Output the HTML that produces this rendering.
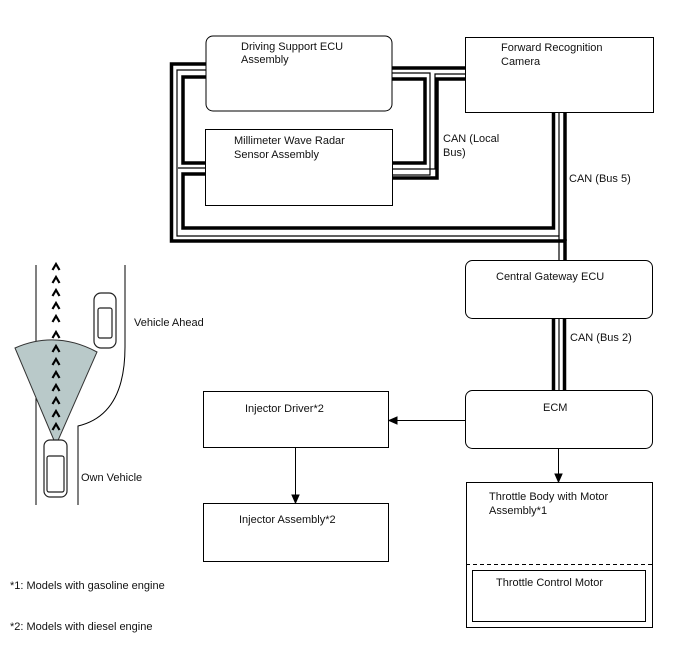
<!DOCTYPE html>
<html><head><style>
body{margin:0;background:#fff}
svg text{font-family:"Liberation Sans",sans-serif;font-size:11px;fill:#111}
</style></head><body>
<svg width="688" height="658" viewBox="0 0 688 658" xmlns="http://www.w3.org/2000/svg">
<g fill="none" stroke="#000">
<path d="M206 64 H171.5 V241 H565 V260" stroke-width="3.5"/>
<path d="M206 70 H177 V236 H559 V260" stroke-width="1.2"/>
<path d="M206 77 H183 V163 H206" stroke-width="3.5"/>
<path d="M206 168 H178" stroke-width="1.2"/>
<path d="M206 174 H183 V228 H553.5 V112" stroke-width="3.5"/>
<path d="M559 112 V236" stroke-width="1.2"/>
<path d="M565 112 V241" stroke-width="3.5"/>
<path d="M392 68 H465" stroke-width="3.5"/>
<path d="M392 73 H430 V175 H392" stroke-width="1.2"/>
<path d="M392 79 H425 V163 H392" stroke-width="3.5"/>
<path d="M465 74 H435 V169 H392" stroke-width="1.2"/>
<path d="M465 79 H437 V178 H392" stroke-width="3.5"/>
<path d="M553.5 318 V390 M564.5 318 V390" stroke-width="3.5"/>
<path d="M559 318 V390" stroke-width="1.2"/>
</g>
<g fill="#fff" stroke="#000" stroke-width="1">
<rect x="206" y="36" width="186" height="75" rx="7"/>
<rect x="465.5" y="37.5" width="188" height="75"/>
<rect x="205.5" y="129.5" width="187" height="76"/>
<rect x="465.5" y="260.5" width="187" height="58" rx="7"/>
<rect x="465.5" y="390.5" width="187" height="58" rx="7"/>
<rect x="203.5" y="391.5" width="185" height="56"/>
<rect x="203.5" y="503.5" width="185" height="58"/>
<rect x="466.5" y="482.5" width="186" height="145"/>
<rect x="472.5" y="570.5" width="173" height="51"/>
</g>
<line x1="466" y1="564.5" x2="652" y2="564.5" stroke="#000" stroke-dasharray="4,3"/>
<g stroke="#000" fill="#000">
<line x1="465" y1="420.5" x2="396" y2="420.5"/><path d="M389 420.5 L397 417 L397 424 Z"/>
<line x1="558.5" y1="448" x2="558.5" y2="475"/><path d="M558.5 482 L555 474 L562 474 Z"/>
<line x1="295.5" y1="447" x2="295.5" y2="496"/><path d="M295.5 503 L292 495 L299 495 Z"/>
</g>
<text x="241" y="50">Driving Support ECU</text><text x="241" y="63">Assembly</text>
<text x="501" y="51">Forward Recognition</text><text x="501" y="65">Camera</text>
<text x="234" y="144">Millimeter Wave Radar</text><text x="234" y="158">Sensor Assembly</text>
<text x="443" y="142">CAN (Local</text><text x="443" y="156">Bus)</text>
<text x="569" y="182">CAN (Bus 5)</text>
<text x="496" y="280">Central Gateway ECU</text>
<text x="570" y="341">CAN (Bus 2)</text>
<text x="543" y="411">ECM</text>
<text x="245" y="412">Injector Driver*2</text>
<text x="239" y="523">Injector Assembly*2</text>
<text x="489" y="500">Throttle Body with Motor</text><text x="489" y="514">Assembly*1</text>
<text x="496" y="586">Throttle Control Motor</text>
<text x="134" y="326">Vehicle Ahead</text>
<text x="81" y="481">Own Vehicle</text>
<text x="10" y="589">*1: Models with gasoline engine</text>
<text x="10" y="630">*2: Models with diesel engine</text>
<g fill="none" stroke="#000" stroke-width="1">
<line x1="36" y1="265" x2="36" y2="505"/>
<path d="M125 265 V347 Q125 415 78 426 V505"/>
</g>
<path d="M56 445 L15 348 Q56 330 97 352 Z" fill="#b9c9c9" stroke="#333" stroke-width="1"/>
<g fill="none" stroke="#000" stroke-width="2.2">
<path id="c" d="M52.5 270 L56 264 L59.5 270"/>
<use href="#c" y="13"/><use href="#c" y="26"/><use href="#c" y="39"/><use href="#c" y="52"/><use href="#c" y="68"/><use href="#c" y="82"/><use href="#c" y="95"/><use href="#c" y="108"/><use href="#c" y="121"/><use href="#c" y="134"/><use href="#c" y="147"/><use href="#c" y="160"/>
</g>
<g fill="#fff" stroke="#222" stroke-width="1.2">
<rect x="94" y="293" width="22" height="55" rx="7"/>
<rect x="98" y="308" width="14" height="30" rx="2"/>
<rect x="44" y="440" width="23" height="57" rx="6"/>
<rect x="47" y="456" width="17" height="36" rx="2"/>
</g>
</svg>
</body></html>
